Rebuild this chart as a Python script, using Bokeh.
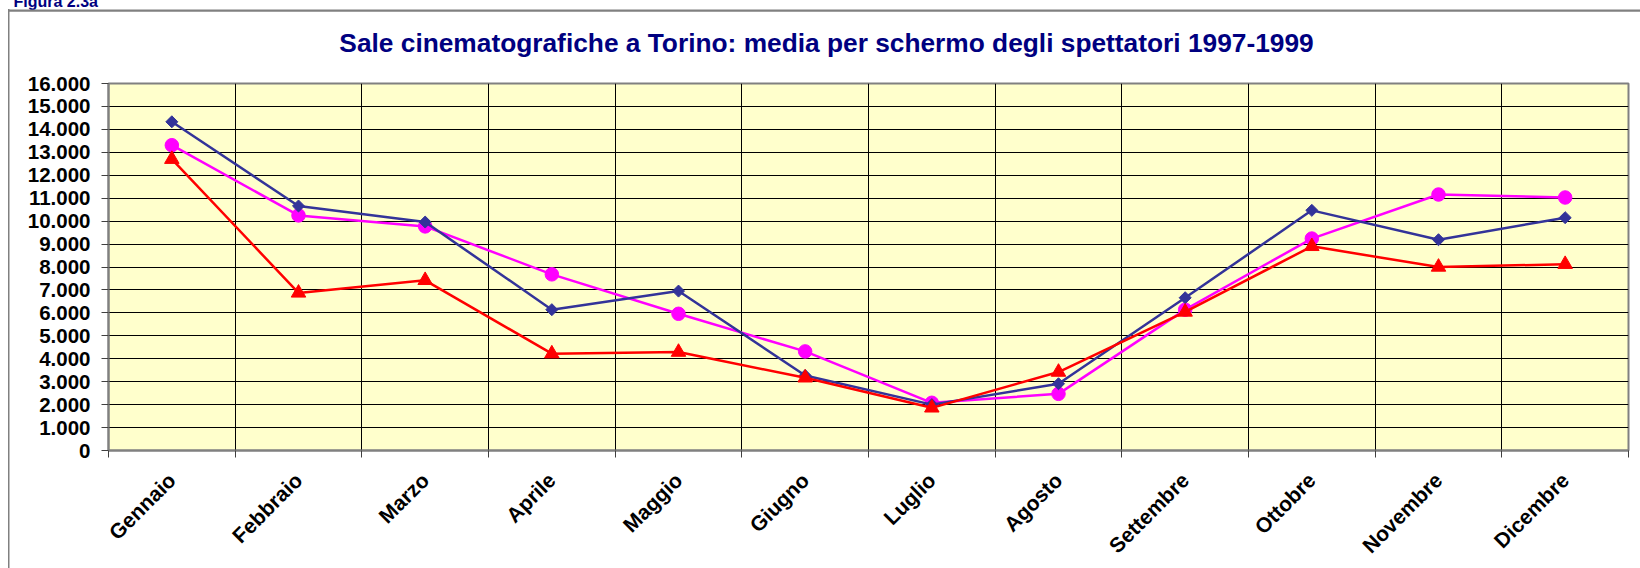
from math import pi
from bokeh.plotting import figure
from bokeh.models import FixedTicker, Label, Range1d
from bokeh.embed import file_html
from bokeh.resources import INLINE

# ---- data ----
mesi = ["Gennaio", "Febbraio", "Marzo", "Aprile", "Maggio", "Giugno",
        "Luglio", "Agosto", "Settembre", "Ottobre", "Novembre", "Dicembre"]
serie_magenta = [13310, 10250, 9770, 7680, 5960, 4320, 2080, 2470, 6140, 9240, 11160, 11030]
serie_blu = [14330, 10660, 9960, 6140, 6950, 3270, 2000, 2910, 6660, 10470, 9190, 10150]
serie_rossa = [12700, 6870, 7420, 4220, 4290, 3170, 1860, 3420, 6040, 8900, 8000, 8120]
y_ticks = list(range(0, 16001, 1000))
titolo = "Sale cinematografiche a Torino: media per schermo degli spettatori 1997-1999"
figura = "Figura 2.3a"

FONT = "Liberation Sans"

x_pos = [i + 0.5 for i in range(len(mesi))]

p = figure(width=1640, height=568, output_backend="svg", toolbar_location=None,
           x_range=Range1d(0, len(mesi)), y_range=Range1d(0, 16000),
           min_border_left=108, min_border_right=12, min_border_top=83,
           min_border_bottom=118)

p.background_fill_color = "#FFFFCC"
p.border_fill_color = None
# left edge of the outer chart frame (drawn behind the transparent canvas border)
p.styles = {
    "background-color": "white",
    "background-image": "linear-gradient(#808080, #808080)",
    "background-repeat": "no-repeat",
    "background-size": "1.5px 600px",
    "background-position": "8px 9px",
}
p.outline_line_color = "#808080"
p.outline_line_width = 2

# x axis: labels at category centres, tick marks between categories
xa = p.xaxis[0]
xa.ticker = FixedTicker(ticks=x_pos, minor_ticks=list(range(len(mesi) + 1)))
xa.major_label_overrides = {x: m for x, m in zip(x_pos, mesi)}
xa.major_tick_line_color = None
xa.minor_tick_line_color = "#404040"
xa.minor_tick_in = 0
xa.minor_tick_out = 7
xa.axis_line_color = "#808080"
xa.axis_line_width = 2
xa.major_label_orientation = pi / 4
xa.major_label_text_font = FONT
xa.major_label_text_font_size = "21px"
xa.major_label_text_font_style = "bold"
xa.major_label_text_color = "black"
xa.major_label_standoff = 19

# y axis
ya = p.yaxis[0]
ya.ticker = FixedTicker(ticks=y_ticks)
ya.major_label_overrides = {v: f"{v:,}".replace(",", ".") for v in y_ticks}
ya.major_tick_line_color = "#404040"
ya.major_tick_in = 0
ya.major_tick_out = 7
ya.minor_tick_line_color = None
ya.axis_line_color = "#808080"
ya.axis_line_width = 2
ya.major_label_text_font = FONT
ya.major_label_text_font_size = "20.5px"
ya.major_label_text_font_style = "bold"
ya.major_label_text_color = "black"
ya.major_label_standoff = 11

# grids
p.xgrid.ticker = FixedTicker(ticks=list(range(len(mesi) + 1)))
p.xgrid.grid_line_color = "black"
p.xgrid.grid_line_width = 1
p.ygrid.grid_line_color = "black"
p.ygrid.grid_line_width = 1

# series
p.line(x_pos, serie_magenta, line_color="#FF00FF", line_width=2.5)
p.scatter(x_pos, serie_magenta, marker="circle", size=13.5,
          fill_color="#FF00FF", line_color="#FF00FF", line_width=1)
p.line(x_pos, serie_blu, line_color="#333399", line_width=2.5)
p.scatter(x_pos, serie_blu, marker="square", angle=pi / 4, size=8.5,
          fill_color="#333399", line_color="#333399", line_width=1)
p.line(x_pos, serie_rossa, line_color="#FF0000", line_width=2.5)
p.scatter(x_pos, serie_rossa, marker="triangle", size=14.5,
          fill_color="#FF0000", line_color="#FF0000", line_width=1)

# title, figure caption and top edge of the outer frame, in the top side panel
# (centre annotations are clipped to the plot frame)
p.add_layout(Label(x=826, y=42.3, x_units="canvas", y_units="canvas", text=titolo,
                   text_font=FONT, text_font_size="26.3px", text_font_style="bold",
                   text_color="#000080", text_align="center",
                   text_baseline="alphabetic"), "above")
p.add_layout(Label(x=13, y=0.5, x_units="canvas", y_units="canvas", text=figura,
                   text_font=FONT, text_font_size="16px", text_font_style="bold",
                   text_color="#000080", text_baseline="alphabetic"), "above")
p.add_layout(Label(x=8.5, y=9.5, x_units="canvas", y_units="canvas", text=" ",
                   text_font=FONT, text_font_size="1px",
                   text_align="left", text_baseline="top",
                   padding=dict(left=0, right=3000, top=0, bottom=0),
                   background_fill_color=None,
                   border_line_color="#808080", border_line_width=1.2), "above")

open("out.html", "w").write(file_html(p, INLINE))
